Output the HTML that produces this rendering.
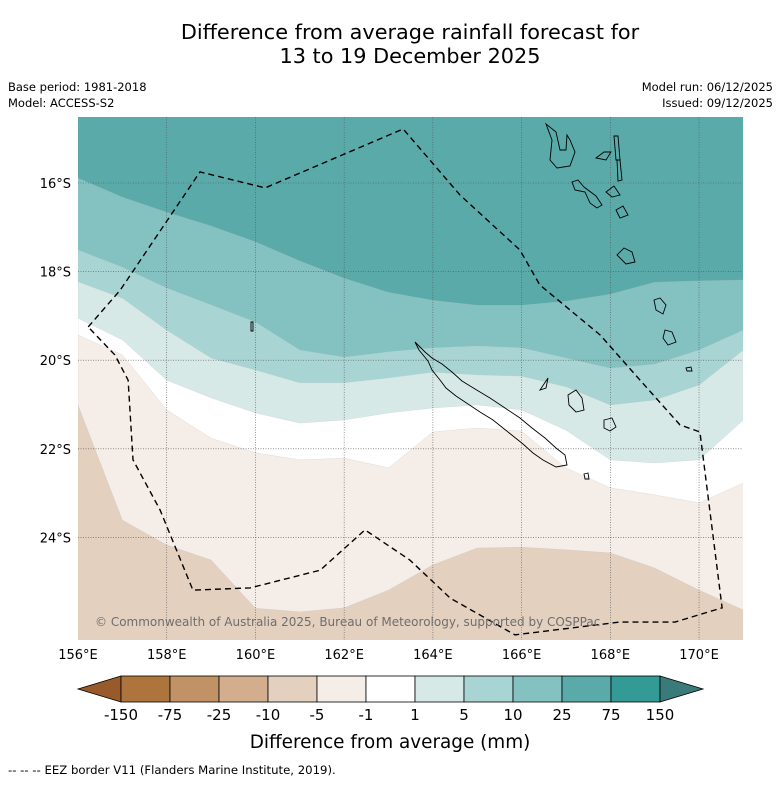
<!DOCTYPE html>
<html><head><meta charset="utf-8"><style>
body{margin:0;background:#fff;font-family:"DejaVu Sans","Liberation Sans",sans-serif;}
svg text{font-family:"DejaVu Sans","Liberation Sans",sans-serif;}
</style></head><body>
<svg id="chart" width="781" height="781" viewBox="0 0 781 781" xmlns="http://www.w3.org/2000/svg">
<rect width="781" height="781" fill="#fff"/>
<text x="410" y="39" font-size="20.8" text-anchor="middle">Difference from average rainfall forecast for</text>
<text x="410" y="63" font-size="20.8" text-anchor="middle">13 to 19 December 2025</text>
<text x="8" y="91" font-size="11.5">Base period: 1981-2018</text>
<text x="8" y="107" font-size="11.5">Model: ACCESS-S2</text>
<text x="773" y="91" font-size="11.5" text-anchor="end">Model run: 06/12/2025</text>
<text x="773" y="107" font-size="11.5" text-anchor="end">Issued: 09/12/2025</text>
<defs><clipPath id="mapclip"><rect x="78" y="117" width="665" height="523"/></clipPath></defs>
<g id="map" clip-path="url(#mapclip)"></g>
<g id="axes"></g>
<g id="colorbar"></g>
<text x="390" y="748" font-size="18.4" text-anchor="middle">Difference from average (mm)</text>
<text x="8" y="774" font-size="11.7">--  --  -- EEZ border V11 (Flanders Marine Institute, 2019).</text>
</svg>
<script>
const lons=[156,157,158,159,160,161,162,163,164,165,166,167,168,169,170,171];
const b1=[15.89,16.32,16.66,16.97,17.33,17.76,18.15,18.47,18.65,18.76,18.76,18.67,18.51,18.24,18.21,18.19];
const b2=[17.51,17.90,18.37,18.75,19.14,19.77,19.93,19.81,19.72,19.68,19.72,19.95,20.18,20.09,19.77,19.32];
const b3=[18.23,18.60,19.32,19.95,20.22,20.51,20.51,20.40,20.27,20.33,20.36,20.60,21.01,20.90,20.56,19.77];
const b4=[19.05,19.54,20.45,20.85,21.19,21.42,21.35,21.19,21.08,21.01,21.12,21.58,22.25,22.32,22.25,21.35];
const b5=[19.43,19.88,21.12,21.76,22.09,22.25,22.21,22.43,21.62,21.53,21.60,22.43,22.88,23.04,23.22,22.77];
const b6=[21.01,23.61,24.17,24.51,25.60,25.68,25.59,25.19,24.62,24.24,24.22,24.28,24.35,24.69,25.19,25.64];
const bandColors=['#5aaaaa','#84c1c1','#a8d5d3','#d6e9e7','#ffffff','#f5ede7','#e3d0bf'];
const eezLon=[156.23,156.95,158.75,160.22,163.33,164.61,165.96,166.41,167.77,168.67,169.57,170.02,170.52,169.46,168.22,165.85,164.39,163.48,162.47,161.46,159.88,158.59,157.85,157.24,157.13,156.83,156.23];
const eezLat=[19.25,18.42,15.75,16.11,14.78,16.27,17.51,18.30,19.43,20.45,21.46,21.62,25.59,25.91,25.91,26.20,25.37,24.51,23.83,24.74,25.14,25.19,23.38,22.25,20.45,19.88,19.25];
const lonTicks=[156,158,160,162,164,166,168,170];
const latTicks=[16,18,20,22,24];
const cbLabels=['-150','-75','-25','-10','-5','-1','1','5','10','25','75','150'];
const cbColors=['#ae743d','#c09265','#d2ae8f','#e3d0bf','#f5ede7','#ffffff','#d6e9e7','#a8d5d3','#84c1c1','#5aaaaa','#339a96'];
const cbEnds=['#985a2a','#3a7a78'];

const NS='http://www.w3.org/2000/svg';
const X=lon=>78+(lon-156)*44.36;
const Y=lat=>183+(lat-16)*44.3;
function mk(tag,attrs,parent){const e=document.createElementNS(NS,tag);for(const k in attrs)e.setAttribute(k,attrs[k]);parent.appendChild(e);return e;}
const map=document.getElementById('map');
let bg=mk('rect',{x:78,y:117,width:665,height:523,fill:bandColors[0]},map);


const bounds=[b1,b2,b3,b4,b5,b6];
const bandNames=['band-10-25','band-5-10','band-1-5','band-neutral','band-minus5-minus1','band-minus10-minus5'];
bounds.forEach((b,i)=>{
  let d='M'+X(lons[0])+','+Y(b[0]);
  for(let j=1;j<lons.length;j++)d+=' L'+X(lons[j])+','+Y(b[j]);
  d+=' L'+X(171)+',700 L'+X(156)+',700 Z';
  const p=mk('path',{d:d,fill:bandColors[i+1],stroke:'#bbb','stroke-width':0.4,'stroke-opacity':0.5},map);
  
  
});
lonTicks.slice(1).forEach(l=>{const g=mk('line',{x1:X(l),x2:X(l),y1:117,y2:640,stroke:'#555','stroke-width':0.6,'stroke-dasharray':'1,1.5'},map);

});
latTicks.forEach(l=>{const g=mk('line',{x1:78,x2:743,y1:Y(l),y2:Y(l),stroke:'#555','stroke-width':0.6,'stroke-dasharray':'1,1.5'},map);

});
const islands=[
'M415,342 L419,350 L428,361 L432,370 L440,380 L446,388 L456,396 L468,404 L480,412 L493,420 L503,428 L513,436 L523,444 L533,453 L543,460 L556,467 L567,465 L565,455 L556,448 L545,438 L532,428 L520,418 L505,408 L490,398 L475,389 L462,381 L452,372 L442,364 L432,358 L425,352 Z',
'M546,124 L552,140 L550,160 L557,168 L570,166 L575,152 L570,140 L567,135 L566,150 L560,150 L556,132 Z',
'M596,158 L604,152 L611,152 L606,160 Z',
'M614,136 L618,136 L620,160 L616,160 Z',
'M617,160 L620,160 L622,180 L618,181 Z',
'M572,182 L578,180 L584,187 L596,196 L602,205 L597,208 L590,203 L585,192 L575,190 Z',
'M606,192 L614,186 L620,195 L612,197 Z',
'M616,210 L623,206 L628,215 L620,218 Z',
'M617,255 L624,248 L632,252 L635,262 L626,264 Z',
'M654,300 L660,298 L666,305 L663,314 L656,310 Z',
'M665,330 L672,332 L676,342 L668,345 L663,338 Z',
'M686,368 L691,367 L692,371 L687,371 Z',
'M568,395 L576,390 L582,398 L584,410 L576,412 L569,405 Z',
'M604,420 L612,418 L616,427 L610,431 L604,428 Z',
'M540,390 L548,378 L546,388 Z',
'M584,474 L588,473 L589,479 L585,479 Z',
'M251,322 L253,322 L253,331 L251,331 Z'];
islands.forEach(d=>{const p=mk('path',{d:d,fill:'none',stroke:'#000','stroke-width':0.9},map);

});
let ed='M'+X(eezLon[0])+','+Y(eezLat[0]);
for(let i=1;i<eezLon.length;i++)ed+=' L'+X(eezLon[i])+','+Y(eezLat[i]);
const eez=mk('path',{d:ed,fill:'none',stroke:'#000','stroke-width':1.4,'stroke-dasharray':'6,4'},map);


const cp=mk('text',{x:95,y:626,'font-size':12,fill:'#6e6e6e'},map);
cp.textContent='© Commonwealth of Australia 2025, Bureau of Meteorology, supported by COSPPac';


const axes=document.getElementById('axes');
lonTicks.forEach(l=>{const t=mk('text',{x:X(l),y:659,'font-size':13,'text-anchor':'middle'},axes);t.textContent=l+'°E';

});
latTicks.forEach(l=>{const t=mk('text',{x:71,y:Y(l)+5,'font-size':13,'text-anchor':'end'},axes);t.textContent=l+'°S';

});
const cb=document.getElementById('colorbar');
const cx0=121,cw=49,cy=676,ch=26;
let lt=mk('path',{d:`M${cx0},${cy} L78,${cy+ch/2} L${cx0},${cy+ch} Z`,fill:cbEnds[0],stroke:'#000','stroke-width':0.8},cb);


cbColors.forEach((c,i)=>{const r=mk('rect',{x:cx0+i*cw,y:cy,width:cw,height:ch,fill:c,stroke:'#000','stroke-width':0.8},cb);

});
const xe=cx0+cbColors.length*cw;
let rt=mk('path',{d:`M${xe},${cy} L${xe+43},${cy+ch/2} L${xe},${cy+ch} Z`,fill:cbEnds[1],stroke:'#000','stroke-width':0.8},cb);


cbLabels.forEach((l,i)=>{const t=mk('text',{x:cx0+i*cw,y:720,'font-size':15,'text-anchor':'middle'},cb);t.textContent=l;

});
</script>
</body></html>
